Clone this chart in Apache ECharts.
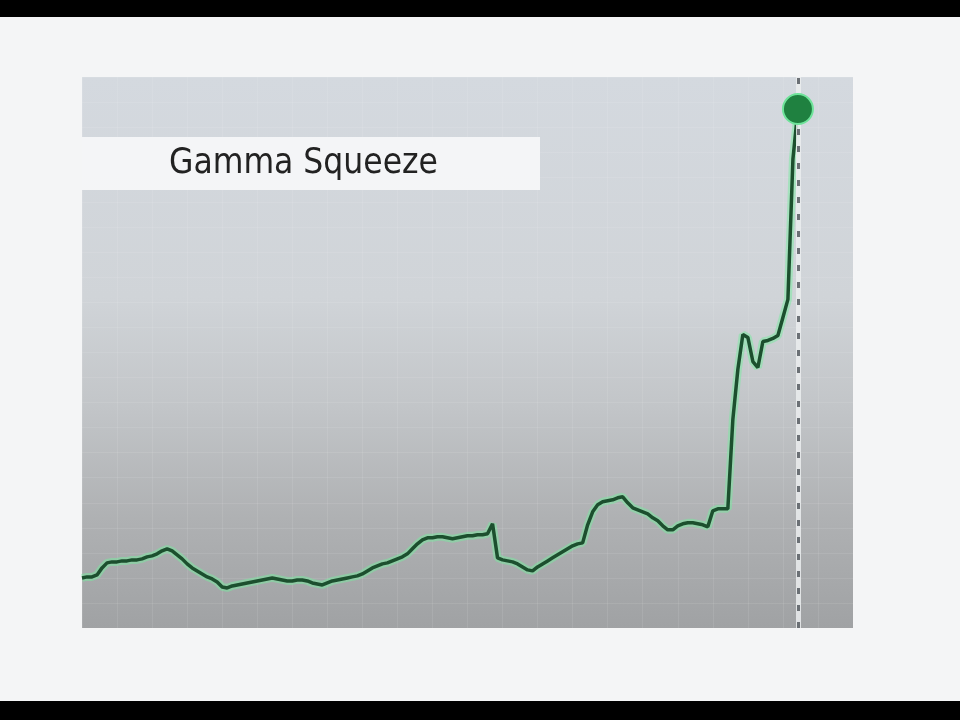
<!DOCTYPE html>
<html>
<head>
<meta charset="utf-8">
<script src="https://cdn.jsdelivr.net/npm/echarts@6/dist/echarts.min.js"></script>
<style>
html,body{margin:0;padding:0;background:#f4f5f6;}
#chart{width:960px;height:720px;}
</style>
</head>
<body>
<div id="chart"></div>
<script>
var titleText = 'Gamma Squeeze';
var prices = [
  10.0,10.2,10.2,10.6,12.0,13.0,13.2,13.2,13.4,13.4,
  13.6,13.6,13.8,14.2,14.4,14.8,15.4,15.8,15.4,14.6,
  13.8,12.8,12.0,11.4,10.8,10.2,9.8,9.2,8.2,8.0,
  8.4,8.6,8.8,9.0,9.2,9.4,9.6,9.8,10.0,9.8,
  9.6,9.4,9.4,9.6,9.6,9.4,9.0,8.8,8.6,9.0,
  9.4,9.6,9.8,10.0,10.2,10.4,10.8,11.4,12.0,12.4,
  12.8,13.0,13.4,13.8,14.2,14.8,15.8,16.8,17.6,18.0,
  18.0,18.2,18.2,18.0,17.8,18.0,18.2,18.4,18.4,18.6,
  18.6,18.8,20.8,14.0,13.6,13.4,13.2,12.8,12.2,11.6,
  11.4,12.2,12.8,13.4,14.0,14.6,15.2,15.8,16.4,16.8,
  17.0,20.6,23.2,24.6,25.2,25.4,25.6,26.0,26.2,25.0,
  24.0,23.6,23.2,22.8,22.0,21.4,20.4,19.6,19.6,20.4,
  20.8,21.0,21.0,20.8,20.6,20.2,23.4,23.8,23.8,23.8,
  41.6,51.6,58.6,58.0,53.2,52.0,57.2,57.4,57.8,58.4,
  62.0,65.6,93.6,103.6
];
var days = prices.map(function(v, i){ return i; });
var seriesData = prices.map(function(v, i){ return [days[i], v]; });
var lastDay = days[days.length - 1];
var lastPrice = prices[prices.length - 1];

var chart = echarts.init(document.getElementById('chart'), null, {renderer:'canvas'});
chart.setOption({
  backgroundColor: '#f4f5f6',
  animation: false,
  grid: {
    left: 82, right: 107, top: 77, bottom: 92,
    show: true,
    borderWidth: 0,
    backgroundColor: new echarts.graphic.LinearGradient(0,0,0,1,[
      {offset:0, color:'#d4d9df'},
      {offset:0.4, color:'#d0d4d8'},
      {offset:0.6, color:'#c2c5c8'},
      {offset:0.8, color:'#afb1b3'},
      {offset:1, color:'#a0a2a4'}
    ])
  },
  xAxis: {
    type: 'value', min: 0, max: 154, interval: 7,
    axisLine:{show:false}, axisTick:{show:false}, axisLabel:{show:false},
    splitLine:{show:true, lineStyle:{color:'rgba(255,255,255,0.09)', width:1}}
  },
  yAxis: {
    type: 'value', min: 0, max: 110, interval: 5,
    axisLine:{show:false}, axisTick:{show:false}, axisLabel:{show:false},
    splitLine:{show:true, lineStyle:{color:'rgba(255,255,255,0.09)', width:1}}
  },
  graphic: [
    {type:'rect', left:0, top:0, shape:{width:960, height:17}, style:{fill:'#000'}, z:100},
    {type:'rect', left:0, top:701, shape:{width:960, height:19}, style:{fill:'#000'}, z:100},
    {type:'rect', left:82, top:137, shape:{width:458, height:53}, style:{fill:'rgba(246,247,248,0.92)'}, z:100},
    {type:'text', left:169, top:146, z:101,
      style:{text:titleText, fill:'#222', font:'500 35px "DejaVu Sans Condensed", "DejaVu Sans", sans-serif'}}
  ],
  series: [
    {
      type:'line', data: seriesData, showSymbol:false, z:2,
      lineStyle:{color:'rgba(120,235,160,0.5)', width:8},
      markLine:{
        silent:true, symbol:['none','none'], label:{show:false},
        lineStyle:{color:'rgba(235,237,239,0.85)', width:5, type:'solid'},
        data:[{xAxis:lastDay}]
      }
    },
    {
      type:'line', data: seriesData, showSymbol:false, z:3,
      lineStyle:{color:'#1c4f2e', width:3.5},
      markLine:{
        silent:true, symbol:['none','none'], label:{show:false},
        lineStyle:{color:'#6b7075', width:3, type:[6,11]},
        data:[{xAxis:lastDay}]
      },
      markPoint:{
        silent:true, symbol:'circle', symbolSize:30, label:{show:false},
        itemStyle:{color:'#1f8140', borderColor:'#6fe39a', borderWidth:2},
        data:[{coord:[lastDay, lastPrice]}]
      }
    }
  ]
});
</script>
</body>
</html>
